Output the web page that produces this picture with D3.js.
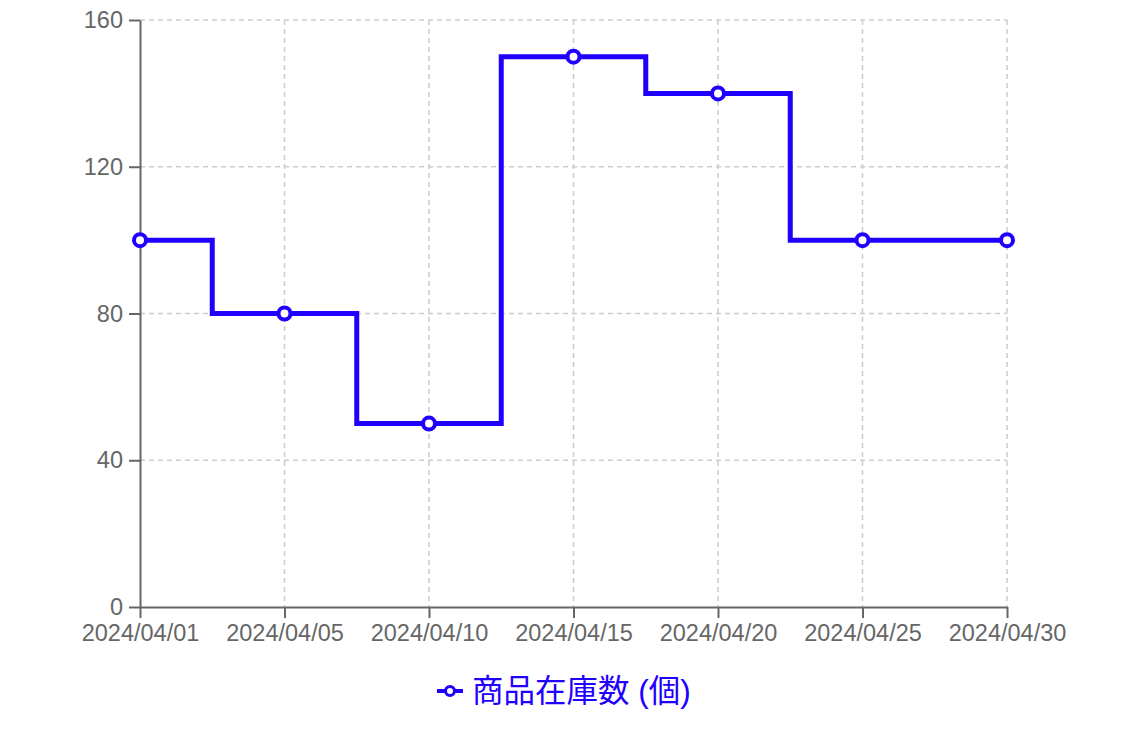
<!DOCTYPE html>
<html>
<head>
<meta charset="utf-8">
<script src="https://cdn.jsdelivr.net/npm/d3@7"></script>
<style>
  body { margin: 0; background: #fff; }
  svg { font-family: "Liberation Sans", Arial, "Noto Sans CJK JP", sans-serif; }
</style>
</head>
<body>
<div id="chart"></div>
<script>
// chart data
const dates = ["2024/04/01", "2024/04/05", "2024/04/10", "2024/04/15", "2024/04/20", "2024/04/25", "2024/04/30"];
const stock = [100, 80, 50, 150, 140, 100, 100];
const yTicks = [0, 40, 80, 120, 160];
const seriesName = "商品在庫数 (個)";

const lineColor = "#1f00ff";
const axisColor = "#666";

let margin = {top: 20, right: 141, bottom: 129, left: 140};
let width = 1148 - margin.left - margin.right;
let height = 736 - margin.top - margin.bottom;

let svg = d3.select("#chart").append("svg")
    .attr("width", 1148)
    .attr("height", 736);

let g = svg.append("g")
    .attr("transform", "translate(" + margin.left + "," + margin.top + ")");

let x = d3.scalePoint()
    .domain(dates)
    .range([0, width]);

let y = d3.scaleLinear()
    .domain([0, 160])
    .range([height, 0]);

// grid
g.append("g")
    .selectAll("line.hgrid")
    .data(yTicks.filter(d => d > 0))
    .enter().append("line")
    .attr("x1", 0).attr("x2", width)
    .attr("y1", d => y(d)).attr("y2", d => y(d))
    .attr("stroke", "#ccc").attr("stroke-width", 1.5)
    .attr("stroke-dasharray", "5,4");

g.append("g")
    .selectAll("line.vgrid")
    .data(dates.slice(1))
    .enter().append("line")
    .attr("x1", d => x(d)).attr("x2", d => x(d))
    .attr("y1", 0).attr("y2", height)
    .attr("stroke", "#ccc").attr("stroke-width", 1.5)
    .attr("stroke-dasharray", "5,4");

// axes
let xAxis = g.append("g")
    .attr("transform", "translate(0," + height + ")")
    .call(d3.axisBottom(x).tickSize(11).tickSizeOuter(0));

let yAxis = g.append("g")
    .call(d3.axisLeft(y).tickValues(yTicks).tickSize(11).tickSizeOuter(0));

[xAxis, yAxis].forEach(a => {
    a.attr("font-size", null).attr("font-family", null);
    a.select(".domain").attr("stroke", axisColor).attr("stroke-width", 2);
    a.selectAll(".tick line").attr("stroke", axisColor).attr("stroke-width", 2);
    a.selectAll(".tick text")
        .attr("fill", axisColor)
        .style("font-size", "23.5px")
        .style("font-family", "'Liberation Sans', Arial, sans-serif");
});
xAxis.selectAll(".tick text").attr("y", 16).attr("dy", "0.75em");
yAxis.selectAll(".tick text").attr("x", -17);

// step line
let line = d3.line()
    .x((d, i) => x(dates[i]))
    .y(d => y(d))
    .curve(d3.curveStep);

g.append("path")
    .datum(stock)
    .attr("fill", "none")
    .attr("stroke", lineColor)
    .attr("stroke-width", 5)
    .attr("d", line);

g.selectAll("circle.pt")
    .data(stock)
    .enter().append("circle")
    .attr("class", "pt")
    .attr("cx", (d, i) => x(dates[i]))
    .attr("cy", d => y(d))
    .attr("r", 6)
    .attr("fill", "#fff")
    .attr("stroke", lineColor)
    .attr("stroke-width", 4);

// legend
let legend = svg.append("g")
    .attr("transform", "translate(437,691)");

legend.append("line")
    .attr("x1", 0).attr("x2", 26)
    .attr("y1", 0).attr("y2", 0)
    .attr("stroke", lineColor).attr("stroke-width", 4);

legend.append("circle")
    .attr("cx", 13).attr("cy", 0).attr("r", 4.5)
    .attr("fill", "#fff").attr("stroke", lineColor).attr("stroke-width", 3);

legend.append("text")
    .attr("x", 35)
    .attr("y", 0)
    .attr("dy", "0.35em")
    .attr("fill", lineColor)
    .style("font-size", "31.5px")
    .style("font-family", "'Liberation Sans', 'Noto Sans CJK JP', sans-serif")
    .text(seriesName);
</script>
</body>
</html>
